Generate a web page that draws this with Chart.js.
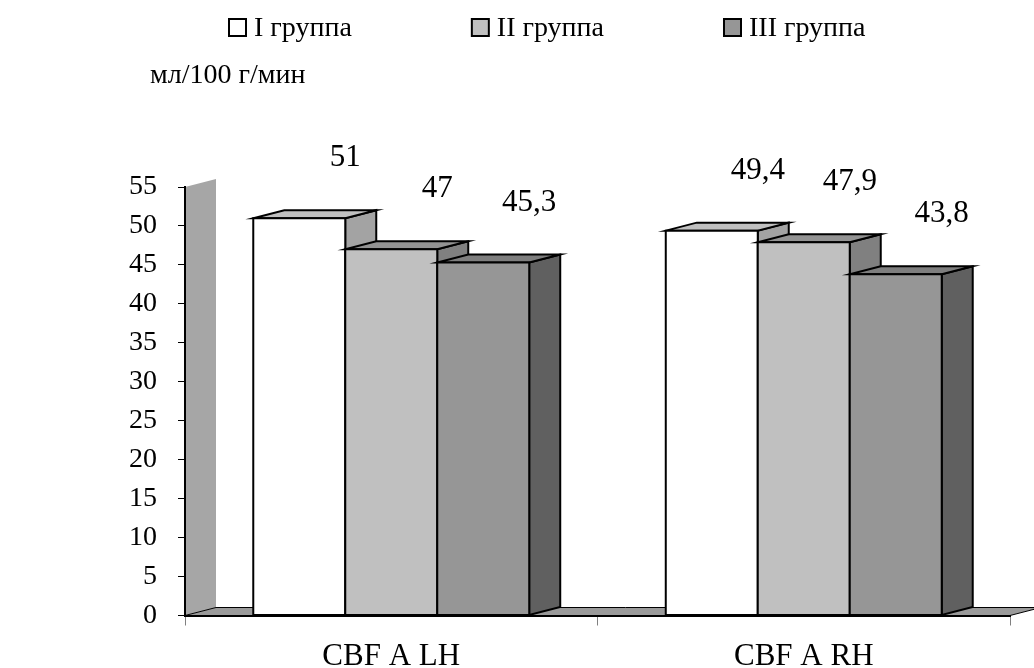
<!DOCTYPE html>
<html><head><meta charset="utf-8">
<script src="https://cdn.jsdelivr.net/npm/chart.js@4/dist/chart.umd.min.js"></script>
<style>html,body{margin:0;padding:0;background:#fff}canvas{display:block}</style>
</head><body>
<canvas id="c" width="1034" height="668"></canvas>
<script>
// ---- data ----
const categories = ['CBF A LH', 'CBF A RH'];
const seriesNames = ['I группа', 'II группа', 'III группа'];
const group1 = [51, 49.4];
const group2 = [47, 47.9];
const group3 = [45.3, 43.8];
const yMin = 0, yMax = 55, yStep = 5;
const unitLabel = 'мл/100 г/мин';

// ---- styles ----
const FONT = '"Liberation Serif", "Times New Roman", serif';
const frontColors = ['#FFFFFF', '#C0C0C0', '#969696'];
const topColors = ['#C0C0C0', '#939393', '#7E7E7E'];
const sideColors = ['#A3A3A3', '#808080', '#606060'];
const DX = 31, DY = -8;

const fmt = v => String(v).replace('.', ',');

const threeD = {
  id: 'threeD',
  beforeDraw(chart) {
    const {ctx, chartArea: a} = chart;
    ctx.save();
    ctx.fillStyle = '#A6A6A6';
    ctx.beginPath();
    ctx.moveTo(a.left, a.top); ctx.lineTo(a.left + DX, a.top + DY);
    ctx.lineTo(a.left + DX, a.bottom + DY); ctx.lineTo(a.left, a.bottom);
    ctx.closePath(); ctx.fill();
    ctx.fillStyle = '#9A9A9A';
    ctx.beginPath();
    ctx.moveTo(a.left, a.bottom); ctx.lineTo(a.right, a.bottom);
    ctx.lineTo(a.right + DX, a.bottom + DY); ctx.lineTo(a.left + DX, a.bottom + DY);
    ctx.closePath(); ctx.fill();
    ctx.strokeStyle = '#000'; ctx.lineWidth = 1; ctx.stroke();
    ctx.restore();
  },
  afterDatasetsDraw(chart) {
    const ctx = chart.ctx;
    ctx.save();
    ctx.lineWidth = 2;
    ctx.strokeStyle = '#000';
    ctx.lineJoin = 'miter';
    const n = chart.data.labels.length;
    const poly = (pts, fill) => {
      ctx.beginPath();
      ctx.moveTo(pts[0][0], pts[0][1]);
      for (let k = 1; k < pts.length; k++) ctx.lineTo(pts[k][0], pts[k][1]);
      ctx.closePath();
      ctx.fillStyle = fill; ctx.fill(); ctx.stroke();
    };
    for (let j = 0; j < n; j++) {
      chart.data.datasets.forEach((ds, i) => {
        const el = chart.getDatasetMeta(i).data[j];
        const p = el.getProps(['x', 'y', 'base', 'width'], true);
        const x1 = p.x - p.width / 2, x2 = p.x + p.width / 2;
        poly([[x2, p.y], [x2 + DX, p.y + DY], [x2 + DX, p.base + DY], [x2, p.base]], sideColors[i]);
        poly([[x1, p.y], [x2, p.y], [x2 + DX, p.y + DY], [x1 + DX, p.y + DY]], topColors[i]);
        poly([[x1, p.y], [x2, p.y], [x2, p.base], [x1, p.base]], frontColors[i]);
      });
    }
    ctx.fillStyle = '#000';
    ctx.font = '31px ' + FONT;
    ctx.textAlign = 'center';
    ctx.textBaseline = 'alphabetic';
    chart.data.datasets.forEach((ds, i) => {
      chart.getDatasetMeta(i).data.forEach((el, j) => {
        const p = el.getProps(['x', 'y'], true);
        ctx.fillText(fmt(ds.data[j]), p.x + 46, p.y - 52);
      });
    });
    ctx.restore();
  },
  afterDraw(chart) {
    const ctx = chart.ctx;
    ctx.save();
    ctx.fillStyle = '#000';
    ctx.font = '28px ' + FONT;
    ctx.textAlign = 'left';
    ctx.textBaseline = 'alphabetic';
    ctx.fillText(unitLabel, 150, 83);
    // legend
    let x = 229;
    const box = 17, gap = 8, spacing = 120;
    chart.data.datasets.forEach((ds, i) => {
      ctx.fillStyle = ds.backgroundColor;
      ctx.fillRect(x, 19, box, box);
      ctx.lineWidth = 2; ctx.strokeStyle = '#000';
      ctx.strokeRect(x, 19, box, box);
      ctx.fillStyle = '#000';
      ctx.fillText(ds.label, x + box + gap, 36);
      x += box + gap + ctx.measureText(ds.label).width + spacing;
    });
    ctx.restore();
  }
};

const seriesData = [group1, group2, group3];
new Chart(document.getElementById('c'), {
  type: 'bar',
  data: {
    labels: categories,
    datasets: seriesNames.map((name, i) => ({
      label: name,
      data: seriesData[i],
      backgroundColor: frontColors[i],
      borderWidth: 0,
      categoryPercentage: 0.669,
      barPercentage: 1
    }))
  },
  options: {
    responsive: false,
    animation: false,
    devicePixelRatio: 1,
    layout: {padding: {top: 187, right: 24, left: 0, bottom: 0}},
    plugins: {legend: {display: false}, tooltip: {enabled: false}},
    scales: {
      x: {
        afterFit: s => { s.height = 52.5; },
        grid: {drawOnChartArea: false, color: '#808080', tickLength: 10, offset: true},
        border: {display: true, color: '#000', width: 2},
        ticks: {color: '#000', font: {family: FONT, size: 31}, padding: 13}
      },
      y: {
        min: yMin, max: yMax,
        afterFit: s => { s.width = 185; },
        grid: {drawOnChartArea: false, color: '#000', tickLength: 7},
        border: {display: true, color: '#000', width: 2},
        ticks: {stepSize: yStep, color: '#000', font: {family: FONT, size: 28}, padding: 21}
      }
    }
  },
  plugins: [threeD]
});
</script>
</body></html>
